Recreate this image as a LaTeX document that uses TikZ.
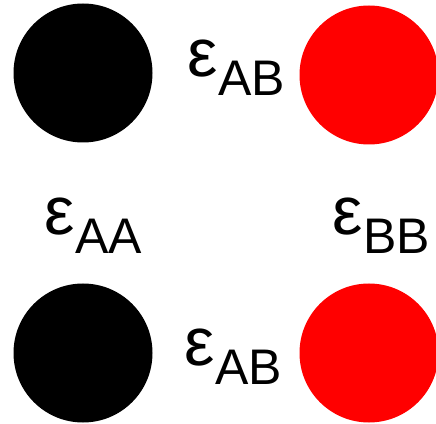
\documentclass[tikz,border=0pt]{standalone}
\usepackage{fontspec}
\setmainfont{Liberation Sans}
\newcommand{\epsbig}{\fontsize{68}{68}\selectfont}
\newcommand{\subsmall}{\fontsize{50}{50}\selectfont}
\newcommand{\eps}[1]{{\epsbig ε}\kern1pt\raisebox{-19pt}{\subsmall #1}}
\begin{document}
\begin{tikzpicture}[x=1pt,y=1pt,
  ball/.style={circle,minimum size=139pt,inner sep=0,draw=none},
  lab/.style={anchor=base west,inner sep=0}]
\useasboundingbox (0,0) rectangle (436,423);
\node[ball,fill=black] (a1) at (83,350) {};
\node[ball,fill=red] (b1) at (369,348) {};
\node[ball,fill=black] (a2) at (83,70) {};
\node[ball,fill=red] (b2) at (369,70) {};
\node[lab] (t1) at (187,346) {\eps{AB}};
\node[lab] (t2) at (44,188) {\eps{AA}};
\node[lab] (t3) at (332,188) {\eps{BB}};
\node[lab] (t4) at (184,58) {\eps{AB}};
\end{tikzpicture}
\end{document}
